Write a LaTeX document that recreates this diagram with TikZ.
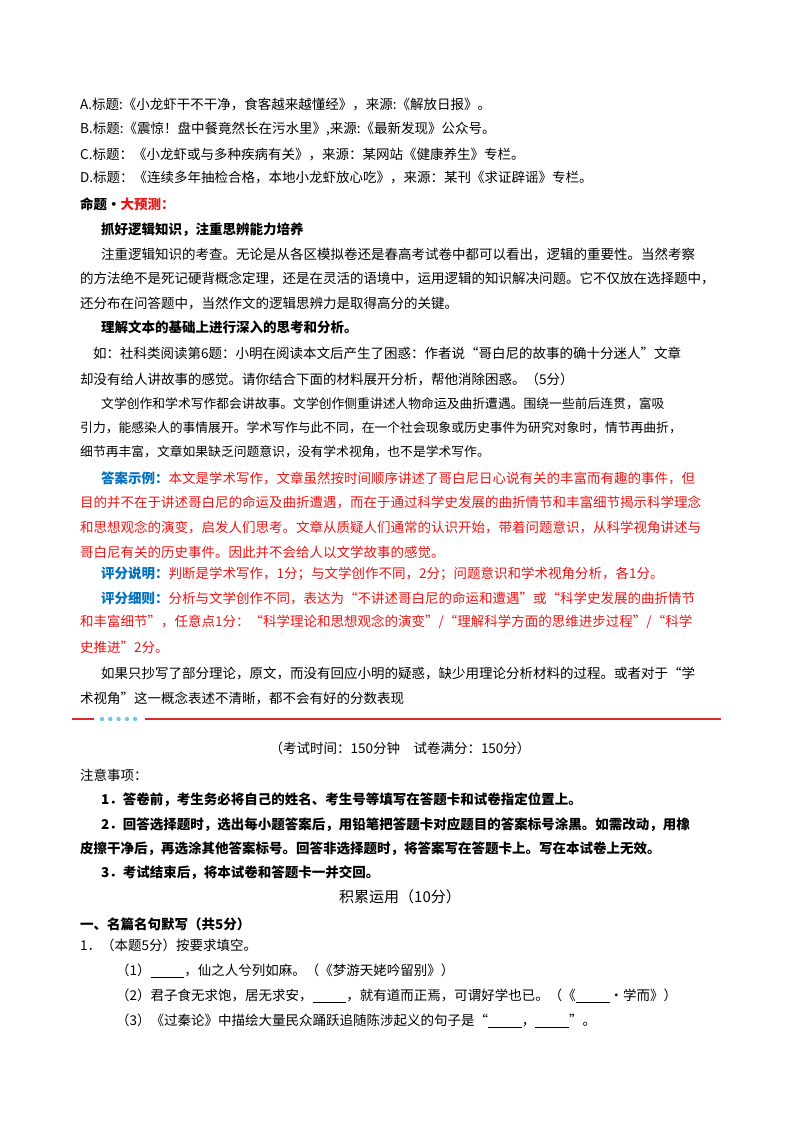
\documentclass[tikz,border=0pt]{standalone}
\usepackage{fontspec}
\setmainfont{Noto Sans CJK SC}
\definecolor{rd}{RGB}{235,20,20}
\definecolor{bl}{RGB}{0,112,192}
\definecolor{dv}{RGB}{225,40,40}
\definecolor{cy}{RGB}{110,200,235}
\newcommand{\blank}[1]{\underline{\hspace{#1}}}
\begin{document}
\begin{tikzpicture}[x=1pt,y=-1pt,
 ln/.style={anchor=west,inner sep=0pt,font=\fontsize{13.5}{16}\selectfont},
 sm/.style={anchor=west,inner sep=0pt,font=\fontsize{12.8}{15}\selectfont},
 bd/.style={anchor=west,inner sep=0pt,font=\fontsize{13.5}{16}\selectfont\bfseries}]
\useasboundingbox (0,0) rectangle (800,1132);
\node[ln] (a) at (80,104) {A.标题:《小龙虾干不干净，食客越来越懂经》，来源:《解放日报》。};
\node[ln] (b) at (80,129) {B.标题:《震惊！盘中餐竟然长在污水里》,来源:《最新发现》公众号。};
\node[ln] (c) at (80,154) {C.标题：《小龙虾或与多种疾病有关》，来源：某网站《健康养生》专栏。};
\node[ln] (d) at (80,178) {D.标题：《连续多年抽检合格，本地小龙虾放心吃》，来源：某刊《求证辟谣》专栏。};
\node[bd] (e) at (80,204) {命题·\textcolor{rd}{大预测：}};
\node[bd] (f) at (101,230) {抓好逻辑知识，注重思辨能力培养};
\node[ln] (g1) at (101,254) {注重逻辑知识的考查。无论是从各区模拟卷还是春高考试卷中都可以看出，逻辑的重要性。当然考察};
\node[ln] (g2) at (80,278) {的方法绝不是死记硬背概念定理，还是在灵活的语境中，运用逻辑的知识解决问题。它不仅放在选择题中，};
\node[ln] (g3) at (80,303) {还分布在问答题中，当然作文的逻辑思辨力是取得高分的关键。};
\node[bd] (h) at (101,327) {理解文本的基础上进行深入的思考和分析。};
\node[ln] (i1) at (93,353) {如：社科类阅读第6题：小明在阅读本文后产生了困惑：作者说“哥白尼的故事的确十分迷人”文章};
\node[ln] (i2) at (80,379) {却没有给人讲故事的感觉。请你结合下面的材料展开分析，帮他消除困惑。（5分）};
\node[sm] (j1) at (101,404) {文学创作和学术写作都会讲故事。文学创作侧重讲述人物命运及曲折遭遇。围绕一些前后连贯，富吸};
\node[sm] (j2) at (80,428) {引力，能感染人的事情展开。学术写作与此不同，在一个社会现象或历史事件为研究对象时，情节再曲折，};
\node[sm] (j3) at (80,452) {细节再丰富，文章如果缺乏问题意识，没有学术视角，也不是学术写作。};
\node[ln] (k1) at (101,478) {\textcolor{bl}{\bfseries 答案示例：}\textcolor{rd}{本文是学术写作，文章虽然按时间顺序讲述了哥白尼日心说有关的丰富而有趣的事件，但}};
\node[ln,rd] (k2) at (80,502) {目的并不在于讲述哥白尼的命运及曲折遭遇，而在于通过科学史发展的曲折情节和丰富细节揭示科学理念};
\node[ln,rd] (k3) at (80,527) {和思想观念的演变，启发人们思考。文章从质疑人们通常的认识开始，带着问题意识，从科学视角讲述与};
\node[ln,rd] (k4) at (80,552) {哥白尼有关的历史事件。因此并不会给人以文学故事的感觉。};
\node[ln] (l) at (101,574) {\textcolor{bl}{\bfseries 评分说明：}\textcolor{rd}{判断是学术写作，1分；与文学创作不同，2分；问题意识和学术视角分析，各1分。}};
\node[ln] (m1) at (101,598) {\textcolor{bl}{\bfseries 评分细则：}\textcolor{rd}{分析与文学创作不同，表达为“不讲述哥白尼的命运和遭遇”或“科学史发展的曲折情节}};
\node[ln,rd] (m2) at (80,622) {和丰富细节”，任意点1分：“科学理论和思想观念的演变”/“理解科学方面的思维进步过程”/“科学};
\node[ln,rd] (m3) at (80,647) {史推进”2分。};
\node[ln] (n1) at (101,673) {如果只抄写了部分理论，原文，而没有回应小明的疑惑，缺少用理论分析材料的过程。或者对于“学};
\node[ln] (n2) at (80,698) {术视角”这一概念表述不清晰，都不会有好的分数表现};
% divider
\coordinate (d1) at (72,719); \coordinate (d2) at (94,719);
\coordinate (d3) at (145,719); \coordinate (d4) at (721,719);
\draw[dv,line width=1.5pt] (d1) -- (d2);
\draw[dv,line width=1.5pt] (d3) -- (d4);
\foreach \i in {0,...,4} \fill[cy] (102+\i*8.3,719) circle (2.2);
\node[ln,anchor=center] (o) at (400,748) {（考试时间：150分钟\quad 试卷满分：150分）};
\node[ln] (p) at (80,775) {注意事项：};
\node[bd] (q1) at (101,800) {1．答卷前，考生务必将自己的姓名、考生号等填写在答题卡和试卷指定位置上。};
\node[bd] (q2) at (101,825) {2．回答选择题时，选出每小题答案后，用铅笔把答题卡对应题目的答案标号涂黑。如需改动，用橡};
\node[bd] (q3) at (80,849) {皮擦干净后，再选涂其他答案标号。回答非选择题时，将答案写在答题卡上。写在本试卷上无效。};
\node[bd] (q4) at (101,873) {3．考试结束后，将本试卷和答题卡一并交回。};
\node[anchor=center,inner sep=0pt,font=\fontsize{15}{18}\selectfont] (r) at (400,897) {积累运用（10分）};
\node[bd] (s) at (80,924) {一、名篇名句默写（共5分）};
\node[ln] (t) at (80,945) {1．（本题5分）按要求填空。};
\node[ln] (u1) at (116,971) {（1）\blank{2.5em}，仙之人兮列如麻。（《梦游天姥吟留别》）};
\node[ln] (u2) at (116,996) {（2）君子食无求饱，居无求安，\blank{2.5em}，就有道而正焉，可谓好学也已。（《\blank{2.5em}·学而》）};
\node[ln] (u3) at (116,1021) {（3）《过秦论》中描绘大量民众踊跃追随陈涉起义的句子是“\blank{2.5em}，\blank{2.5em}”。};
\end{tikzpicture}
\end{document}
